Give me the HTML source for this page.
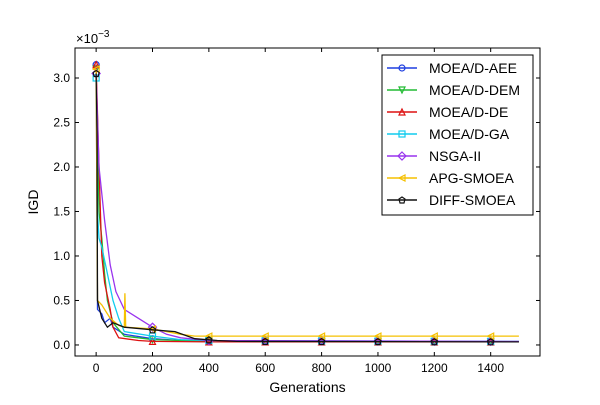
<!DOCTYPE html>
<html><head><meta charset="utf-8"><style>
body{margin:0;background:#fff;}
svg{font-family:"Liberation Sans","DejaVu Sans",sans-serif;}
</style></head><body>
<svg id="chart" width="600" height="400"></svg>
<script>
const gensAEE=[0,3,5,20,30,50,60,100,200,300,400,1500];
const valsAEE=[3.15,1.5,0.4,0.35,0.25,0.3,0.2,0.12,0.07,0.05,0.04,0.035];
const gensDEM=[0,10,20,30,40,60,100,150,200,400,1500];
const valsDEM=[3.1,1.5,1.2,0.8,0.5,0.25,0.1,0.08,0.06,0.04,0.035];
const gensDE=[0,10,20,30,50,60,80,150,200,400,1500];
const valsDE=[3.15,2.0,1.0,0.7,0.4,0.2,0.08,0.05,0.04,0.035,0.035];
const gensGA=[0,5,10,20,40,60,80,100,200,300,400,1500];
const valsGA=[3.0,1.5,1.2,1.1,0.8,0.5,0.3,0.15,0.1,0.06,0.05,0.04];
const gensNSGA=[0,10,30,50,70,100,150,200,250,300,400,1500];
const valsNSGA=[3.05,2.0,1.4,0.9,0.6,0.4,0.3,0.2,0.12,0.08,0.05,0.04];
const gensAPG=[0,5,20,50,80,100,102,105,200,300,350,1500];
const valsAPG=[3.1,0.5,0.45,0.3,0.22,0.2,0.58,0.2,0.18,0.12,0.1,0.1];
const gensDIFF=[0,3,5,20,40,60,100,200,280,350,430,500,1500];
const valsDIFF=[3.05,2.4,0.5,0.3,0.2,0.25,0.2,0.17,0.15,0.07,0.05,0.04,0.035];
const seriesNames=["MOEA/D-AEE","MOEA/D-DEM","MOEA/D-DE","MOEA/D-GA","NSGA-II","APG-SMOEA","DIFF-SMOEA"];
const xTicks=[0,200,400,600,800,1000,1200,1400];
const yTicks=[0,0.5,1.0,1.5,2.0,2.5,3.0];
const yTickLabels=["0.0","0.5","1.0","1.5","2.0","2.5","3.0"];
const markerGens=[0,200,400,600,800,1000,1200,1400];

const NS="http://www.w3.org/2000/svg";
const svg=document.getElementById('chart');
const L=75,R=540,T=48,B=356;
const xMin=-75,xMax=1575,yMin=-0.124,yMax=3.337;
const xs=v=>L+(v-xMin)/(xMax-xMin)*(R-L);
const ys=v=>B-(v-yMin)/(yMax-yMin)*(B-T);
function mk(tag,attrs,parent){const e=document.createElementNS(NS,tag);for(const k in attrs)e.setAttribute(k,attrs[k]);(parent||svg).appendChild(e);return e;}
function interp(g,v,x){for(let i=1;i<g.length;i++){if(x<=g[i]){const t=(x-g[i-1])/(g[i]-g[i-1]);return v[i-1]+t*(v[i]-v[i-1]);}}return v[v.length-1];}

const series=[
 {g:gensAEE,v:valsAEE,c:"#1f3fe0",m:"circle"},
 {g:gensDEM,v:valsDEM,c:"#22bb33",m:"tridown"},
 {g:gensDE,v:valsDE,c:"#dd1111",m:"triup"},
 {g:gensGA,v:valsGA,c:"#11ccee",m:"square"},
 {g:gensNSGA,v:valsNSGA,c:"#9933ee",m:"diamond"},
 {g:gensAPG,v:valsAPG,c:"#f5c000",m:"trileft"},
 {g:gensDIFF,v:valsDIFF,c:"#111111",m:"pentagon"}
];
function marker(type,x,y,c,parent,name){
  let e;const s=3;
  const pts=a=>a.map(p=>(x+p[0])+","+(y+p[1])).join(" ");
  if(type==="circle")e=mk("circle",{cx:x,cy:y,r:s},parent);
  else if(type==="square")e=mk("rect",{x:x-s,y:y-s,width:2*s,height:2*s},parent);
  else if(type==="triup")e=mk("polygon",{points:pts([[0,-s],[s,s],[-s,s]])},parent);
  else if(type==="tridown")e=mk("polygon",{points:pts([[0,s],[s,-s],[-s,-s]])},parent);
  else if(type==="trileft")e=mk("polygon",{points:pts([[-s,0],[s,-s],[s,s]])},parent);
  else if(type==="diamond")e=mk("polygon",{points:pts([[0,-s-1],[s+1,0],[0,s+1],[-s-1,0]])},parent);
  else e=mk("polygon",{points:pts([[0,-s],[s,-1],[2,s],[-2,s],[-s,-1]])},parent);
  e.setAttribute("fill","none");e.setAttribute("stroke",c);e.setAttribute("stroke-width","1.2");
  
  
}
const frame=mk("rect",{x:L,y:T,width:R-L,height:B-T,fill:"none",stroke:"#000","stroke-width":1});


xTicks.forEach(t=>{
  const x=xs(t);
  mk("line",{x1:x,x2:x,y1:B,y2:B-4,stroke:"#000"});mk("line",{x1:x,x2:x,y1:T,y2:T+4,stroke:"#000"});
  const tx=mk("text",{x:x,y:B+16,"text-anchor":"middle","font-size":12});tx.textContent=t;
  
  
});
yTicks.forEach((t,i)=>{
  const y=ys(t);
  mk("line",{x1:L,x2:L+4,y1:y,y2:y,stroke:"#000"});mk("line",{x1:R,x2:R-4,y1:y,y2:y,stroke:"#000"});
  const tx=mk("text",{x:L-5,y:y+4,"text-anchor":"end","font-size":12});tx.textContent=yTickLabels[i];
  
  
});
const ex=mk("text",{x:L+1,y:T-5,"font-size":13});ex.innerHTML='×10<tspan dy="-6" font-size="10">−3</tspan>';


const xl=mk("text",{x:(L+R)/2,y:B+36,"text-anchor":"middle","font-size":14});xl.textContent="Generations";


const yl=mk("text",{x:38,y:(T+B)/2,"text-anchor":"middle","font-size":14,transform:`rotate(-90 38 ${(T+B)/2})`});yl.textContent="IGD";



series.forEach((s,k)=>{
  const g=mk("g",{});
  
  
  const d=s.g.map((x,i)=>(i?"L":"M")+xs(x).toFixed(1)+","+ys(s.v[i]).toFixed(1)).join(" ");
  const p=mk("path",{d:d,fill:"none",stroke:s.c,"stroke-width":1.3},g);
  
  
  markerGens.forEach(mg=>marker(s.m,xs(mg),ys(interp(s.g,s.v,mg)),s.c,g,'series-marker'));
});
const lg=mk("g",{});


mk("rect",{x:382,y:55,width:151,height:160,fill:"#fff",stroke:"#000","stroke-width":1},lg);
series.forEach((s,k)=>{
  const y=68+k*22;
  const e=mk("g",{},lg);
  
  
  mk("line",{x1:387,x2:417,y1:y,y2:y,stroke:s.c,"stroke-width":1.5},e);
  marker(s.m,402,y,s.c,e,'legend-marker');
  const t=mk("text",{x:429,y:y+5,"font-size":14},e);t.textContent=seriesNames[k];
  
  
});
</script>
</body></html>
